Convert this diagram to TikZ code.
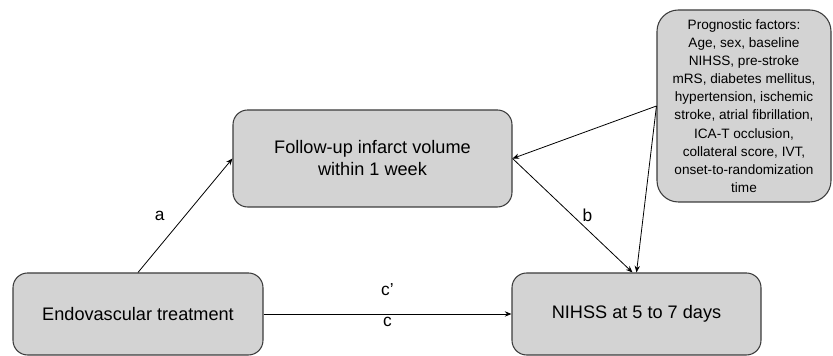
\documentclass[tikz,border=0pt]{standalone}
\usepackage{fontspec}
\setmainfont{Liberation Sans}
\usetikzlibrary{arrows.meta}
\definecolor{boxfill}{HTML}{D3D3D3}
\definecolor{boxline}{HTML}{3C3C3C}
\tikzset{
  box/.style={draw=boxline,fill=boxfill,line width=0.8pt,rounded corners=11pt,align=center,font=\fontsize{13.6}{16.5}\selectfont},
  link/.style={-{Stealth[length=5pt,width=4pt]},line width=0.6pt},
  lab/.style={font=\fontsize{13}{15}\selectfont}
}
\begin{document}
\begin{tikzpicture}[x=0.75pt,y=0.75pt]
\useasboundingbox (0,0) rectangle (833,356);
%
\node[box,minimum width=187.5pt,minimum height=61.5pt](endo) at (138,42) {Endovascular treatment};
\node[box,minimum width=209.25pt,minimum height=72.75pt](fiv) at (372.5,197.5) {Follow-up infarct volume\\within 1 week};
\node[box,minimum width=186.75pt,minimum height=61.5pt](nihss) at (636.5,42) {NIHSS at 5 to 7 days};
\node[box,rounded corners=16pt,minimum width=130.5pt,minimum height=144pt,font=\fontsize{10.2}{13.6}\selectfont](prog) at (744,250)
  {Prognostic factors:\\Age, sex, baseline\\NIHSS, pre-stroke\\mRS, diabetes mellitus,\\hypertension, ischemic\\stroke, atrial fibrillation,\\ICA-T occlusion,\\collateral score, IVT,\\onset-to-randomization\\time};
%
\draw[link](endo.north)--node[lab,left,xshift=-12pt]{a}(fiv.west);
\draw[link](endo.east)--node[lab,above,yshift=10pt]{c'}node[lab,below,yshift=1pt]{c}(nihss.west);
\draw[link](fiv.east)--node[lab,right,xshift=4pt]{b}([xshift=-3pt]nihss.north);
\draw[link](prog.west)--(fiv.east);
\draw[link](prog.west)--(nihss.north);
\end{tikzpicture}
\end{document}
